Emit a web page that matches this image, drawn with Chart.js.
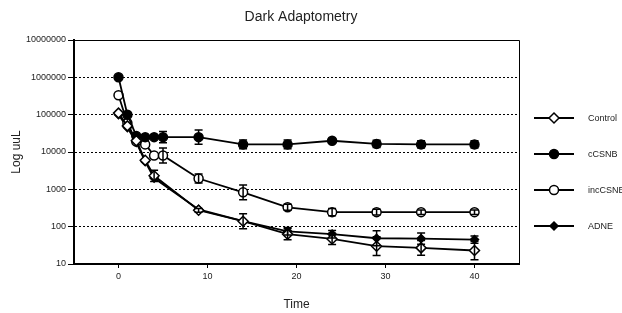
<!DOCTYPE html>
<html>
<head>
<meta charset="utf-8">
<script src="https://cdn.jsdelivr.net/npm/chart.js@4.4.1/dist/chart.umd.min.js"></script>
<style>
    html, body { margin: 0; padding: 0; background: #fff; }
    #wrap { position: relative; width: 622px; height: 313px; }
</style>
</head>
<body>
<div id="wrap"><canvas id="chart"></canvas></div>
<script>
const times = [0, 1, 2, 3, 4, 5, 9, 14, 19, 24, 29, 34, 40];

const control = [110000, 50000, 20000, 6000, 2300, null, 275, 140, 63, 47, 30, 27, 23];
const cCSNB   = [1000000, 100000, 27000, 25000, 25000, 25000, 25000, 16000, 16000, 20000, 16500, 16000, 16000];
const incCSNB = [330000, 60000, 19000, 16000, 8100, 8100, 1950, 830, 330, 245, 245, 245, 245];
const adne    = [100000, 45000, 18000, 5500, 2000, null, 290, 140, 75, 63, 49, 48, 45];

// error bar half-widths, in decades (log10 units)
const controlErr = [0, 0, 0, 0, 0.15, 0, 0.05, 0.2, 0.15, 0.15, 0.25, 0.2, 0.25];
const cCSNBErr   = [0, 0, 0, 0, 0, 0.15, 0.19, 0.12, 0.12, 0.05, 0.1, 0.1, 0.1];
const incCSNBErr = [0, 0, 0, 0, 0, 0.2, 0.12, 0.2, 0.08, 0.1, 0.08, 0.06, 0.06];
const adneErr    = [0, 0, 0, 0, 0, 0, 0, 0, 0.1, 0.1, 0.2, 0.15, 0.1];

const yTicks = [10, 100, 1000, 10000, 100000, 1000000, 10000000];
const xTicks = [0, 10, 20, 30, 40];
const seriesNames = ['Control', 'cCSNB', 'incCSNB', 'ADNE'];
const chartTitle = 'Dark Adaptometry';

const FONT = 'Liberation Sans, Arial, sans-serif';

function pts(values) {
    return times.map((t, i) => ({ x: t, y: values[i] })).filter(p => p.y !== null);
}

function series(label, values, errs, style) {
    return Object.assign({
        label,
        data: pts(values),
        errs: times.map((t, i) => ({ v: values[i], e: errs[i] })).filter(p => p.v !== null).map(p => p.e),
        borderColor: '#000',
        borderWidth: 1.8,
        pointBorderColor: '#000',
        pointBorderWidth: 1.5,
        tension: 0
    }, style);
}

const errorBars = {
    id: 'errorBars',
    afterDatasetsDraw(chart) {
        const ctx = chart.ctx;
        const y = chart.scales.y;
        ctx.save();
        ctx.strokeStyle = '#000';
        ctx.lineWidth = 1.5;
        chart.data.datasets.forEach((ds, di) => {
            const meta = chart.getDatasetMeta(di);
            meta.data.forEach((el, i) => {
                const e = ds.errs[i];
                if (!e) return;
                const v = ds.data[i].y;
                const top = y.getPixelForValue(v * Math.pow(10, e));
                const bot = y.getPixelForValue(v / Math.pow(10, e));
                ctx.beginPath();
                ctx.moveTo(el.x, top); ctx.lineTo(el.x, bot);
                ctx.moveTo(el.x - 4, top); ctx.lineTo(el.x + 4, top);
                ctx.moveTo(el.x - 4, bot); ctx.lineTo(el.x + 4, bot);
                ctx.stroke();
            });
        });
        ctx.restore();
    }
};

// title, top/right frame and the legend off to the right
const frameAndLegend = {
    id: 'frameAndLegend',
    afterDraw(chart) {
        const ctx = chart.ctx;
        const a = chart.chartArea;
        ctx.save();
        ctx.fillStyle = '#222';
        ctx.font = '14px ' + FONT;
        ctx.textAlign = 'center';
        ctx.textBaseline = 'middle';
        ctx.fillText(chartTitle, 301, 17);

        ctx.strokeStyle = '#000';
        ctx.lineWidth = 1;
        ctx.beginPath();
        ctx.moveTo(a.left, a.top + 0.5);
        ctx.lineTo(a.right + 0.5, a.top + 0.5);
        ctx.lineTo(a.right + 0.5, a.bottom);
        ctx.stroke();

        ctx.textAlign = 'left';
        chart.data.datasets.forEach((ds, i) => {
            const cy = 118 + i * 36;
            ctx.strokeStyle = '#000';
            ctx.lineWidth = 2;
            ctx.beginPath();
            ctx.moveTo(534, cy); ctx.lineTo(574, cy);
            ctx.stroke();
            ctx.lineWidth = 1.5;
            ctx.fillStyle = ds.pointBackgroundColor;
            ctx.beginPath();
            const r = ds.pointRadius;
            if (ds.pointStyle === 'rectRot') {
                ctx.moveTo(554, cy - r); ctx.lineTo(554 + r, cy);
                ctx.lineTo(554, cy + r); ctx.lineTo(554 - r, cy);
                ctx.closePath();
            } else {
                ctx.arc(554, cy, r, 0, Math.PI * 2);
            }
            ctx.fill();
            ctx.stroke();
            ctx.fillStyle = '#222';
            ctx.font = '9px ' + FONT;
            ctx.fillText(ds.label, 588, cy + 1);
        });
        ctx.restore();
    }
};

new Chart(document.getElementById('chart'), {
    type: 'line',
    data: {
        datasets: [
            series(seriesNames[0], control, controlErr, { pointStyle: 'rectRot', pointRadius: 5, pointBackgroundColor: '#fff' }),
            series(seriesNames[1], cCSNB, cCSNBErr, { pointStyle: 'circle', pointRadius: 4.5, pointBackgroundColor: '#000' }),
            series(seriesNames[2], incCSNB, incCSNBErr, { pointStyle: 'circle', pointRadius: 4.5, pointBackgroundColor: '#fff' }),
            series(seriesNames[3], adne, adneErr, { pointStyle: 'rectRot', pointRadius: 4, pointBackgroundColor: '#000' })
        ]
    },
    options: {
        responsive: true,
        maintainAspectRatio: false,
        animation: false,
        layout: { padding: { left: 0, right: 103, top: 40, bottom: 0 } },
        plugins: {
            legend: { display: false },
            tooltip: { enabled: false },
            title: { display: false }
        },
        scales: {
            x: {
                type: 'linear',
                min: -5,
                max: 45,
                afterBuildTicks: s => { s.ticks = xTicks.map(v => ({ value: v })); },
                afterFit: s => { s.height = 49; },
                grid: { drawOnChartArea: false, tickLength: 4, tickColor: '#000', tickWidth: 1 },
                border: { color: '#000', width: 2 },
                ticks: { color: '#222', font: { family: FONT, size: 9 }, padding: 3, maxRotation: 0 },
                title: { display: true, text: 'Time', color: '#222', font: { family: FONT, size: 12 }, padding: { top: 0, bottom: 1 } }
            },
            y: {
                type: 'logarithmic',
                min: 10,
                max: 10000000,
                afterBuildTicks: s => { s.ticks = yTicks.map(v => ({ value: v })); },
                afterFit: s => { s.width = 74; },
                grid: { color: '#000', lineWidth: 1, tickLength: 6, tickColor: '#000', tickBorderDash: [] },
                border: { color: '#000', width: 2, dash: [2, 2] },
                ticks: { color: '#222', font: { family: FONT, size: 9 }, padding: 2, callback: v => String(v) },
                title: { display: true, text: 'Log uuL', color: '#222', font: { family: FONT, size: 12 }, padding: { top: 9, bottom: 0 } }
            }
        }
    },
    plugins: [errorBars, frameAndLegend]
});
</script>
</body>
</html>
